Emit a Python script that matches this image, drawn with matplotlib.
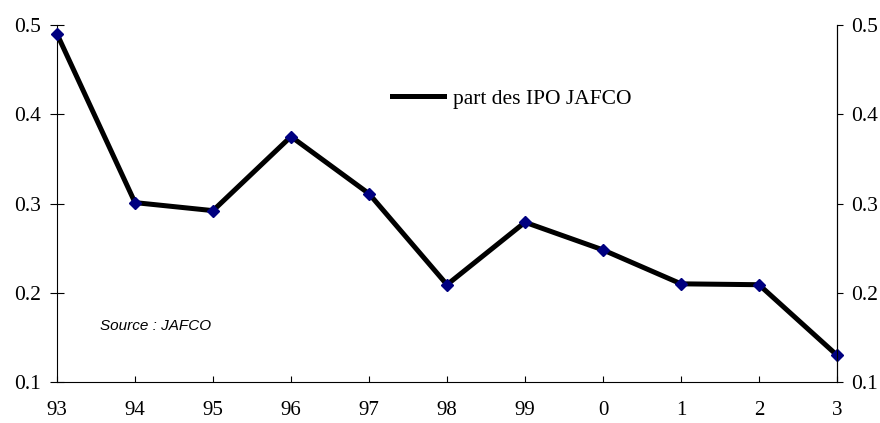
import matplotlib.pyplot as plt
import numpy as np

years = ["93", "94", "95", "96", "97", "98", "99", "0", "1", "2", "3"]
share_ipo = [0.490, 0.301, 0.292, 0.375, 0.311, 0.209, 0.279, 0.248, 0.210, 0.209, 0.130]
yticks = [0.1, 0.2, 0.3, 0.4, 0.5]

serif = ["Liberation Serif", "DejaVu Serif"]

fig = plt.figure(figsize=(8.8, 4.23), dpi=100)
ax = fig.add_axes([57 / 880, 41 / 423, 780 / 880, 357 / 423])
x = np.arange(len(years))

ax.plot(x, share_ipo, color="black", lw=3.6, solid_joinstyle="miter",
        label="part des IPO JAFCO", zorder=2)
ax.plot(x, share_ipo, ls="none", marker="D", ms=6, color="#000080", zorder=3,
        clip_on=False)

ax.set_xlim(0, len(years) - 1)
ax.set_ylim(0.1, 0.5)
ax.set_xticks(x)
ax.set_xticklabels(years, fontfamily=serif, fontsize=15)
ax.set_yticks(yticks)
ax.set_yticklabels([f"{v:.1f}" for v in yticks], fontfamily=serif, fontsize=15.5)
ax.tick_params(axis="y", direction="inout", length=9.4, width=0.8, pad=7)
ax.tick_params(axis="x", direction="in", length=4.5, width=0.8, pad=14)
ax.spines["top"].set_visible(False)
for s in ("left", "bottom", "right"):
    ax.spines[s].set_linewidth(0.8)

ax2 = ax.twinx()
ax2.set_ylim(0.1, 0.5)
ax2.set_yticks(yticks)
ax2.set_yticklabels([f"{v:.1f}" for v in yticks], fontfamily=serif, fontsize=15.5)
ax2.tick_params(axis="y", direction="out", length=4.3, width=0.8, pad=6)
for s in ("top", "left", "bottom"):
    ax2.spines[s].set_visible(False)
ax2.spines["right"].set_linewidth(0.8)

ax.legend(loc="center left", bbox_to_anchor=((392 - 57) / 780, (382 - 99) / 357),
          frameon=False, borderpad=0, borderaxespad=0, handlelength=2.4,
          handletextpad=0.45, prop={"family": serif, "size": 15.5})

ax.text((100 - 57) / 780, (382 - 326) / 357, "Source : JAFCO", transform=ax.transAxes,
        fontfamily="Liberation Sans", fontstyle="italic", fontsize=11, va="center")

fig.savefig("out.png", dpi=100)
